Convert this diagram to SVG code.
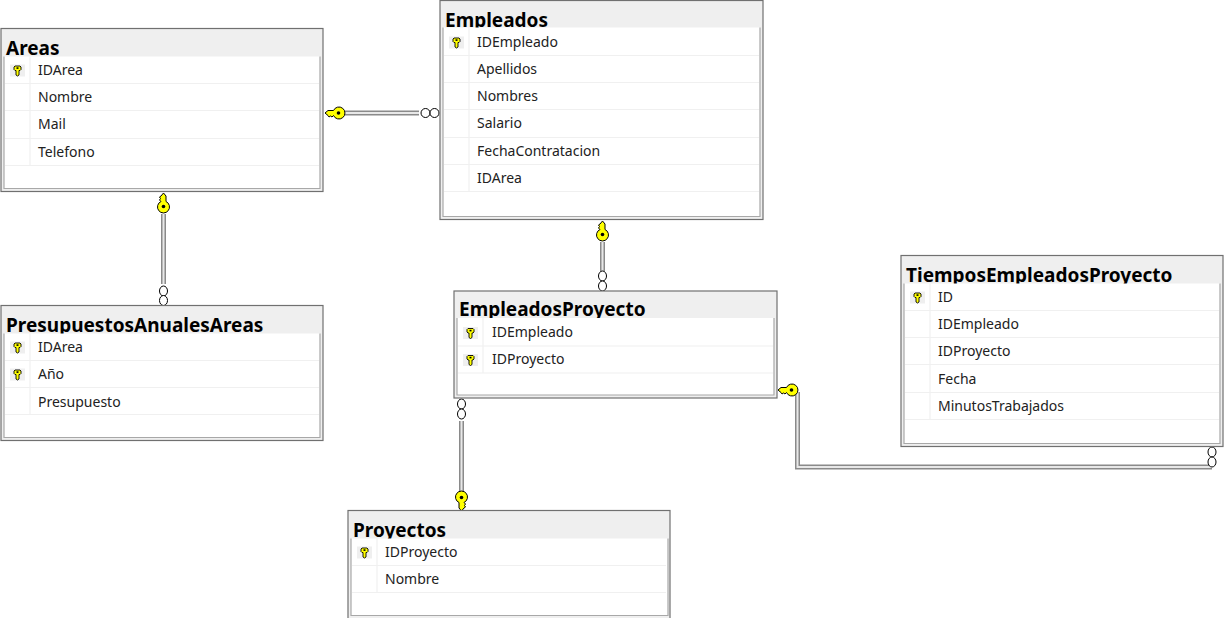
<svg xmlns="http://www.w3.org/2000/svg" xmlns:xlink="http://www.w3.org/1999/xlink" width="1229" height="618" viewBox="0 0 1229 618">
<style>
text{font-family:"Noto Sans","Open Sans","Liberation Sans",sans-serif}
.t{font-size:19px;font-weight:700;fill:#000}
.f{font-size:14px;fill:#222}
.o{fill:#efefef;stroke:#707070;stroke-width:1.2}
.b{fill:#fff}
.e{fill:none;stroke:#a8a8a8;stroke-width:1.2}
.r{stroke:#f0f0f0;stroke-width:1.2;fill:none}
.c1{fill:none;stroke:#8a8a8a;stroke-width:5}
.c2{fill:none;stroke:#e8e8e8;stroke-width:2}
.o2{fill:#fff;stroke:#000;stroke-width:1}
.kb{fill:#ff0;stroke:#000;stroke-width:1}
</style>
<defs>
<g id="sk"><rect x="0" y="0" width="15" height="12" fill="#efefef"/><path d="M5 1.500H10L11 2.500V5L10 6H9V10.500L7.500 11.500L6 10.500V6H5L4 5V2.500Z" fill="#ff0" stroke="#000" stroke-width=".9"/><rect x="6.500" y="2.800" width="2" height="1.600" fill="#000"/></g>
<g id="bk"><path d="M0 0L3-2.500H8.500A6 6 0 1 1 8.500 2.500L7 4L5.500 3L4 4L3 2.500Z" class="kb"/><circle cx="13.500" cy="0" r="1.800"/></g>
</defs>
<g id="connectors">
<path class="c1" d="M345 113H419"/><path class="c2" d="M345 113H419"/>
<use xlink:href="#bk" href="#bk" transform="translate(325,113)"/>
<circle class="o2" cx="425.500" cy="113" r="4.500"/><circle class="o2" cx="434.500" cy="113" r="4.500"/>
<path class="c1" d="M163.500 214V284"/><path class="c2" d="M163.500 214V284"/>
<use xlink:href="#bk" href="#bk" transform="translate(163.500,193) rotate(90)"/>
<ellipse class="o2" cx="163.500" cy="291" rx="4" ry="5"/><ellipse class="o2" cx="163.500" cy="300.500" rx="4" ry="5"/>
<path class="c1" d="M602.500 242V271"/><path class="c2" d="M602.500 242V271"/>
<use xlink:href="#bk" href="#bk" transform="translate(602.500,221) rotate(90)"/>
<ellipse class="o2" cx="602.500" cy="276" rx="4" ry="5"/><ellipse class="o2" cx="602.500" cy="286" rx="4" ry="5"/>
<path class="c1" d="M461.500 421V492"/><path class="c2" d="M461.500 421V492"/>
<use xlink:href="#bk" href="#bk" transform="translate(461.500,511) rotate(-90)"/>
<ellipse class="o2" cx="461.500" cy="404" rx="4" ry="5"/><ellipse class="o2" cx="461.500" cy="414" rx="4" ry="5"/>
<path class="c1" d="M797.500 392V467H1212"/><path class="c2" d="M797.500 392V467H1212"/>
<use xlink:href="#bk" href="#bk" transform="translate(778,390)"/>
<ellipse class="o2" cx="1212" cy="452" rx="4" ry="5"/><ellipse class="o2" cx="1212" cy="462" rx="4" ry="5"/>
</g>
<g id="Areas" transform="translate(1,28.500)">
<rect class="o" width="322" height="163"/><text class="t" x="5" y="26">Areas</text>
<rect class="b" x="3" y="28" width="316" height="132"/><path class="e" d="M3 28V160H319V28"/>
<path class="r" d="M29 28V137M4 55H318M4 82H318M4 110H318M4 137H318"/>
<use xlink:href="#sk" href="#sk" x="9" y="36"/>
<text class="f" x="37" y="46">IDArea</text><text class="f" x="37" y="73">Nombre</text><text class="f" x="37" y="100">Mail</text><text class="f" x="37" y="128">Telefono</text>
</g>
<g id="Empleados" transform="translate(440,0.500)">
<rect class="o" width="323" height="219"/><text class="t" x="5" y="26">Empleados</text>
<rect class="b" x="3" y="27" width="317" height="189"/><path class="e" d="M3 27V216H320V27"/>
<path class="r" d="M29 27V191M4 55H319M4 82H319M4 109H319M4 137H319M4 164H319M4 191H319"/>
<use xlink:href="#sk" href="#sk" x="9" y="36"/>
<text class="f" x="37" y="46">IDEmpleado</text><text class="f" x="37" y="73">Apellidos</text><text class="f" x="37" y="100">Nombres</text><text class="f" x="37" y="127">Salario</text><text class="f" x="37" y="155">FechaContratacion</text><text class="f" x="37" y="182">IDArea</text>
</g>
<g id="PresupuestosAnualesAreas" transform="translate(1,305.500)">
<rect class="o" width="322" height="135"/><text class="t" x="5" y="26">PresupuestosAnualesAreas</text>
<rect class="b" x="3" y="28" width="316" height="104"/><path class="e" d="M3 28V132H319V28"/>
<path class="r" d="M29 28V109M4 55H318M4 82H318M4 109H318"/>
<use xlink:href="#sk" href="#sk" x="9" y="36"/><use xlink:href="#sk" href="#sk" x="9" y="63"/>
<text class="f" x="37" y="46">IDArea</text><text class="f" x="37" y="73">Año</text><text class="f" x="37" y="101">Presupuesto</text>
</g>
<g id="EmpleadosProyecto" transform="translate(454,291)">
<rect class="o" width="323" height="107"/><text class="t" x="5" y="25">EmpleadosProyecto</text>
<rect class="b" x="3" y="27" width="317" height="77"/><path class="e" d="M3 27V104H320V27"/>
<path class="r" d="M29 27V82M4 55H319M4 82H319"/>
<use xlink:href="#sk" href="#sk" x="9" y="36"/><use xlink:href="#sk" href="#sk" x="9" y="63"/>
<text class="f" x="38" y="46">IDEmpleado</text><text class="f" x="38" y="73">IDProyecto</text>
</g>
<g id="Proyectos" transform="translate(348,510.500)">
<rect class="o" width="322" height="110"/><text class="t" x="5" y="26">Proyectos</text>
<rect class="b" x="3" y="28" width="317" height="77"/><path class="e" d="M3 28V105H320V28"/>
<path class="r" d="M29 28V82M4 55H318M4 82H318"/>
<use xlink:href="#sk" href="#sk" x="9" y="36"/>
<text class="f" x="37" y="46">IDProyecto</text><text class="f" x="37" y="73">Nombre</text>
</g>
<g id="TiemposEmpleadosProyecto" transform="translate(901,255.500)">
<rect class="o" width="322" height="191"/><text class="t" x="5" y="26">TiemposEmpleadosProyecto</text>
<rect class="b" x="3" y="28" width="316" height="160"/><path class="e" d="M3 28V188H319V28"/>
<path class="r" d="M29 28V164M4 55H318M4 82H318M4 109H318M4 137H318M4 164H318"/>
<use xlink:href="#sk" href="#sk" x="9" y="36"/>
<text class="f" x="37" y="46">ID</text><text class="f" x="37" y="73">IDEmpleado</text><text class="f" x="37" y="100">IDProyecto</text><text class="f" x="37" y="128">Fecha</text><text class="f" x="37" y="155">MinutosTrabajados</text>
</g>
</svg>
